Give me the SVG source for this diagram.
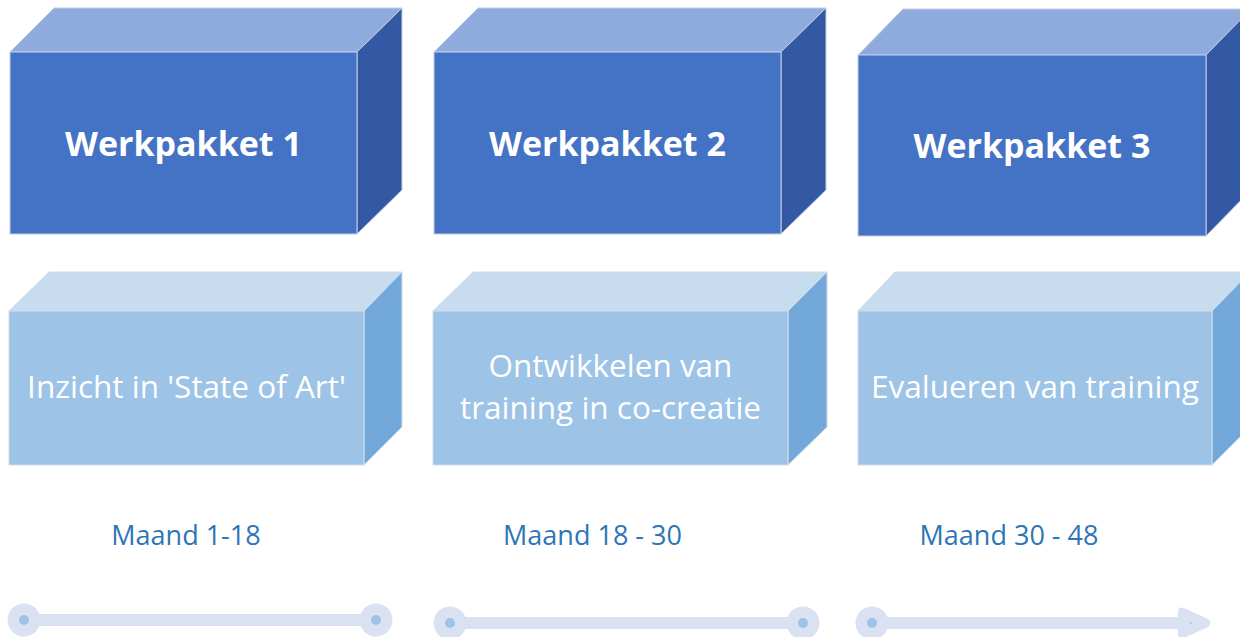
<svg xmlns="http://www.w3.org/2000/svg" width="1240" height="637" viewBox="0 0 1240 637">
<style>
.df{fill:#4472C4;stroke:#C3CDE3;stroke-width:1}
.dt{fill:#8FAADC;stroke:#C3CDE3;stroke-width:1}
.dr{fill:#3359A5;stroke:#C3CDE3;stroke-width:1}
.lf{fill:#9DC3E6;stroke:#D2DBE8;stroke-width:1}
.lt{fill:#C8DCF0;stroke:#D2DBE8;stroke-width:1}
.lr{fill:#73A8DA;stroke:#D2DBE8;stroke-width:1}
.h{font-family:"Open Sans",sans-serif;font-weight:bold;font-size:34px;fill:#FFFFFF;text-anchor:middle}
.b{font-family:"Open Sans",sans-serif;font-size:31.5px;fill:#FFFFFF;text-anchor:middle}
.m{font-family:"Open Sans",sans-serif;font-size:27px;fill:#2E75B6;text-anchor:middle}
.ln{stroke:#DAE1F3;stroke-width:12;fill:none}
.oc{fill:#DAE1F3}
.ic{fill:#9DC3E6}
</style>
<rect width="1240" height="637" fill="#FFFFFF"/>

<g id="wp1">
<polygon class="dt" points="10,52 54,8 402,8 357,52"/>
<polygon class="dr" points="357,52 402,8 402,190 357,234"/>
<rect class="df" x="10" y="52" width="347" height="182"/>
<text class="h" x="183.5" y="156">Werkpakket 1</text>
</g>
<g id="wp2">
<polygon class="dt" points="434,52 478,8 826,8 781,52"/>
<polygon class="dr" points="781,52 826,8 826,190 781,234"/>
<rect class="df" x="434" y="52" width="347" height="182"/>
<text class="h" x="607.5" y="156">Werkpakket 2</text>
</g>
<g id="wp3">
<polygon class="dt" points="858,55 903,9 1251,9 1206,55"/>
<polygon class="dr" points="1206,55 1251,9 1251,190 1206,236"/>
<rect class="df" x="858" y="55" width="348" height="181"/>
<text class="h" x="1032" y="158">Werkpakket 3</text>
</g>

<g id="task1">
<polygon class="lt" points="9,311 49,272 402,272 364,311"/>
<polygon class="lr" points="364,311 402,272 402,427 364,465"/>
<rect class="lf" x="9" y="311" width="355" height="154"/>
<text class="b" x="186.5" y="398">Inzicht in 'State of Art'</text>
</g>
<g id="task2">
<polygon class="lt" points="433,311 473,272 827,272 788,311"/>
<polygon class="lr" points="788,311 827,272 827,427 788,465"/>
<rect class="lf" x="433" y="311" width="355" height="154"/>
<text class="b" x="610.5" y="377">Ontwikkelen van</text>
<text class="b" x="610.5" y="419">training in co-creatie</text>
</g>
<g id="task3">
<polygon class="lt" points="858,311 895,272 1250,272 1212,311"/>
<polygon class="lr" points="1212,311 1250,272 1250,427 1212,465"/>
<rect class="lf" x="858" y="311" width="354" height="154"/>
<text class="b" x="1035" y="398">Evalueren van training</text>
</g>

<g id="labels">
<text class="m" x="186" y="545">Maand 1-18</text>
<text class="m" x="592.5" y="545">Maand 18 - 30</text>
<text class="m" x="1009" y="545">Maand 30 - 48</text>
</g>

<g id="connectors">
<line class="ln" x1="24" y1="620" x2="376" y2="620"/>
<circle class="oc" cx="24" cy="620" r="16.5"/>
<circle class="ic" cx="24" cy="620" r="5"/>
<circle class="oc" cx="376" cy="620" r="16.5"/>
<circle class="ic" cx="376" cy="620" r="5"/>

<line class="ln" x1="450" y1="623" x2="803" y2="623"/>
<circle class="oc" cx="450" cy="623" r="16.5"/>
<circle class="ic" cx="450" cy="623" r="5"/>
<circle class="oc" cx="803" cy="623" r="16.5"/>
<circle class="ic" cx="803" cy="623" r="5"/>

<line class="ln" x1="872" y1="623" x2="1182" y2="623"/>
<circle class="oc" cx="872" cy="623" r="16.5"/>
<circle class="ic" cx="872" cy="623" r="5"/>
<path class="oc" d="M1178,612 Q1178,606 1184,608 L1208,619 Q1213,623 1208,627 L1184,638 Q1178,640 1178,634 Z"/>
<circle class="ic" cx="1191" cy="623" r="1"/>
</g>
</svg>
